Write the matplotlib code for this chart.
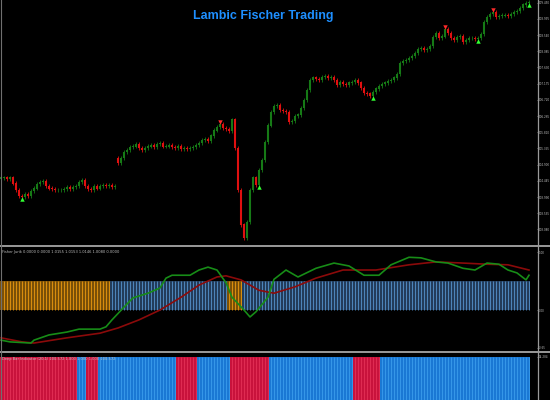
#!/usr/bin/env python3
"""Trading screen: candles on top, Fisher bars and Deep Bar panel below."""

import matplotlib
matplotlib.use('Agg')
from matplotlib import pyplot as plt
from matplotlib.lines import Line2D
import numpy as np

# closing prices, one per bar
closes = [
    104.53, 104.53, 104.50, 104.53, 104.38, 104.19, 104.02, 103.99, 104.08, 104.02,
    104.16, 104.24, 104.36, 104.41, 104.44, 104.30, 104.24, 104.22, 104.19, 104.19,
    104.19, 104.22, 104.27, 104.22, 104.27, 104.30, 104.41, 104.47, 104.30, 104.22,
    104.19, 104.30, 104.24, 104.30, 104.33, 104.30, 104.33, 104.27, 104.30, 104.95,
    105.09, 105.26, 105.31, 105.40, 105.42, 105.48, 105.37, 105.31, 105.37, 105.42,
    105.45, 105.40, 105.48, 105.51, 105.42, 105.42, 105.45, 105.40, 105.37, 105.42,
    105.34, 105.37, 105.34, 105.37, 105.40, 105.45, 105.51, 105.59, 105.62, 105.57,
    105.71, 105.87, 105.96, 106.04, 105.93, 105.90, 105.85, 106.16, 105.37, 104.19,
    103.21, 102.84, 103.29, 104.19, 104.53, 104.33, 104.75, 105.03, 105.54, 106.01,
    106.38, 106.55, 106.58, 106.44, 106.41, 106.38, 106.10, 106.13, 106.27, 106.30,
    106.49, 106.72, 107.00, 107.28, 107.34, 107.31, 107.28, 107.36, 107.39, 107.34,
    107.36, 107.28, 107.14, 107.22, 107.17, 107.14, 107.20, 107.22, 107.28, 107.20,
    107.05, 106.91, 106.89, 106.83, 106.94, 107.03, 107.11, 107.17, 107.20, 107.25,
    107.28, 107.34, 107.45, 107.76, 107.81, 107.84, 107.90, 107.95, 108.04, 108.15,
    108.18, 108.12, 108.15, 108.23, 108.49, 108.60, 108.46, 108.51, 108.71, 108.60,
    108.46, 108.40, 108.49, 108.51, 108.35, 108.40, 108.46, 108.46, 108.43, 108.46,
    108.57, 108.91, 109.05, 109.13, 109.19, 109.05, 109.08, 109.10, 109.10, 109.08,
    109.13, 109.19, 109.22, 109.30, 109.39, 109.44, 109.47,
]
first_open = 104.50
gap_opens = {39: 105.09}
buy_arrows = [7, 86, 124, 159, 176]
sell_arrows = [73, 148, 164]
price_ticks = [109.450, 108.995, 108.540, 108.085, 107.630, 107.175, 106.720, 106.265,
               105.810, 105.355, 104.900, 104.445, 103.990, 103.535, 103.080]

# Fisher panel: bar state (1 = orange, 0 = blue) as runs, and the two lines
fisher_runs = [(0, 36, 1), (37, 75, 0), (76, 80, 1), (81, 176, 0)]
fisher_bar = 0.5
green_idx = [0, 3, 10, 11, 16, 22, 26, 33, 35, 37, 41, 44, 49, 53, 55, 57, 63, 66, 69,
             72, 75, 77, 81, 83, 85, 89, 91, 95, 99, 105, 111, 116, 121, 126, 130, 136,
             140, 145, 149, 154, 158, 162, 166, 169, 172, 175, 176]
green_val = [-0.52, -0.55, -0.57, -0.52, -0.43, -0.38, -0.33, -0.33, -0.29, -0.17, 0.05,
             0.21, 0.29, 0.38, 0.55, 0.60, 0.60, 0.69, 0.74, 0.69, 0.47, 0.22, 0.00,
             -0.12, -0.03, 0.22, 0.53, 0.69, 0.57, 0.72, 0.81, 0.76, 0.60, 0.60, 0.78,
             0.91, 0.90, 0.83, 0.81, 0.72, 0.69, 0.81, 0.79, 0.69, 0.64, 0.52, 0.60]
red_idx = [0, 7, 11, 22, 33, 39, 46, 53, 60, 66, 72, 75, 80, 86, 91, 98, 105, 114, 125,
           136, 145, 154, 162, 169, 176]
red_val = [-0.48, -0.55, -0.57, -0.48, -0.40, -0.31, -0.17, 0.00, 0.22, 0.43, 0.57, 0.59,
           0.52, 0.34, 0.29, 0.40, 0.55, 0.69, 0.69, 0.78, 0.83, 0.81, 0.79, 0.78, 0.69]

# Deep Bar panel: runs of red (1) / blue (0) bars
deep_runs = [(0, 25, 1), (26, 28, 0), (29, 32, 1), (33, 58, 0), (59, 65, 1), (66, 76, 0),
             (77, 89, 1), (90, 117, 0), (118, 126, 1), (127, 176, 0)]
deep_level = 14.284

GREY = '#9a9a9a'
TICK = '#bdbdbd'


def runs_to_states(runs):
    states = np.zeros(len(closes), dtype=int)
    for a, b, s in runs:
        states[a:b + 1] = s
    return states


def side_axis(ax, ticks, labels):
    ax.yaxis.tick_right()
    ax.set_yticks(ticks)
    ax.set_yticklabels(labels)
    ax.tick_params(axis='y', length=1.0, width=0.5, color=GREY, labelsize=2.0,
                   labelcolor=TICK, pad=0.4)
    ax.tick_params(axis='x', bottom=False, labelbottom=False)
    for s in ax.spines.values():
        s.set_visible(False)


def main():
    n = len(closes)
    x = np.arange(n)
    opens = [first_open] + closes[:-1]
    for i, v in gap_opens.items():
        opens[i] = v
    opens = np.array(opens)
    cl = np.array(closes)

    fig = plt.figure(figsize=(5.5, 4.0), dpi=100, facecolor='black')
    W = 537 / 550

    # price panel
    ax = fig.add_axes([0, 1 - 243 / 400, W, 243 / 400], facecolor='black')
    up = cl >= opens
    hi = np.maximum(opens, cl) + 0.05
    lo = np.minimum(opens, cl) - 0.05
    colors = np.where(up, '#167a16', '#e01010')
    ax.vlines(x, lo, hi, colors=colors, linewidth=0.6)
    ax.vlines(x, np.minimum(opens, cl) - 0.01, np.maximum(opens, cl) + 0.01,
              colors=colors, linewidth=1.5)
    ax.plot(x[buy_arrows], lo[buy_arrows], '^', color='#33ff33', markersize=3.2,
            markeredgewidth=0)
    ax.plot(x[sell_arrows], hi[sell_arrows], 'v', color='#ff2a2a', markersize=3.2,
            markeredgewidth=0)
    ax.set_xlim(-1 / 3, 178.67)
    ax.set_ylim(102.70, 109.526)
    side_axis(ax, price_ticks, ['%.3f' % p for p in price_ticks])
    fig.text(263 / 550, 1 - 16 / 400, 'Lambic Fischer Trading', color='#1e8fff',
             ha='center', va='center', fontsize=9, fontweight='bold',
             family=['Liberation Sans Narrow', 'Liberation Sans', 'DejaVu Sans'])

    # Fisher panel
    ax1 = fig.add_axes([0, 50 / 400, W, 102 / 400], facecolor='black')
    fs = runs_to_states(fisher_runs)
    base = np.where(fs == 1, '#7a5008', '#233c5a')
    bright = np.where(fs == 1, '#f5a010', '#5a9ad6')
    ax1.bar(x, fisher_bar, width=1.0, color=base, linewidth=0)
    ax1.vlines(x, 0, fisher_bar, colors=bright, linewidth=0.55)
    ax1.plot(red_idx, red_val, color='#8b0a0a', linewidth=1.2)
    ax1.plot(green_idx, green_val, color='#178c17', linewidth=1.2)
    ax1.set_xlim(-1 / 3, 178.67)
    ax1.set_ylim(-0.69, 1.07)
    side_axis(ax1, [1.0, 0.0, -0.65], ['1.00', '0.00', '-0.65'])
    ax1.text(0.004, 0.985, 'Fisher Jurik 0.0000 0.0000 1.0155 1.0153 1.0146 1.0080 0.0000',
             transform=ax1.transAxes, fontsize=2.6, color=TICK, va='top', ha='left')

    # Deep Bar panel
    ax2 = fig.add_axes([0, 0, W, 46 / 400], facecolor='black')
    ds = runs_to_states(deep_runs)
    base2 = np.where(ds == 1, '#c8123c', '#1a78d4')
    bright2 = np.where(ds == 1, '#ee3a60', '#46a8f5')
    ax2.bar(x, deep_level, width=1.0, color=base2, linewidth=0)
    ax2.vlines(x, 0, deep_level, colors=bright2, linewidth=0.45)
    ax2.set_xlim(-1 / 3, 178.67)
    ax2.set_ylim(0, 15.15)
    side_axis(ax2, [deep_level], ['%.3f' % deep_level])
    ax2.text(0.004, 0.93, 'Deep Bar Indicator (20,1) 100.572 1.000 1.000 1.000 100.572',
             transform=ax2.transAxes, fontsize=2.6, color=TICK, va='top', ha='left')

    # window separators
    for yp in (245.5, 351.5):
        fig.add_artist(Line2D([0, 1], [1 - yp / 400] * 2, color=GREY, linewidth=1.4))
    fig.add_artist(Line2D([537.5 / 550] * 2, [0, 1], color=GREY, linewidth=0.9))
    fig.add_artist(Line2D([0.5 / 550] * 2, [0, 1], color='#707070', linewidth=0.8))

    fig.savefig('out.png', dpi=100, facecolor='black')


if __name__ == '__main__':
    main()
